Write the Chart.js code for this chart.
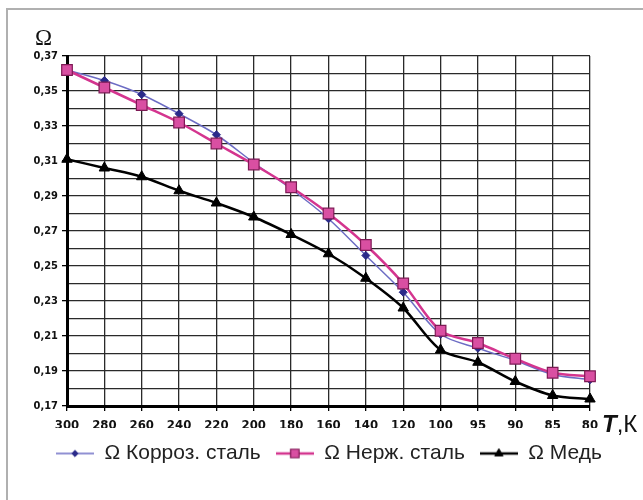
<!DOCTYPE html>
<html>
<head>
<meta charset="utf-8">
<script src="https://cdn.jsdelivr.net/npm/chart.js@4/dist/chart.umd.min.js"></script>
<style>
  html, body { margin: 0; padding: 0; background: #fff; }
  #wrap { width: 643px; height: 500px; position: relative; }
</style>
</head>
<body>
<div id="wrap"><canvas id="c" width="643" height="500"></canvas></div>
<script>
// Temperature, K (category axis, read right to left as cooling)
const temperatures = ['300', '280', '260', '240', '220', '200', '180', '160', '140', '120', '100', '95', '90', '85', '80'];

// Resistance, Ohm
const corrosionSteel = [0.362, 0.356, 0.348, 0.337, 0.325, 0.309, 0.294, 0.277, 0.256, 0.235, 0.211, 0.203, 0.196, 0.188, 0.185];
const stainlessSteel = [0.362, 0.352, 0.342, 0.332, 0.320, 0.308, 0.295, 0.280, 0.262, 0.240, 0.213, 0.206, 0.197, 0.189, 0.187];
const copper         = [0.311, 0.306, 0.301, 0.293, 0.286, 0.278, 0.268, 0.257, 0.243, 0.226, 0.202, 0.195, 0.184, 0.176, 0.174];

const seriesNames = ['Ω Корроз. сталь', 'Ω Нерж. сталь', 'Ω Медь'];

const yMin = 0.17, yMax = 0.37, yStep = 0.01;

const narrow = "'Liberation Sans Narrow', 'DejaVu Sans Condensed', 'Arial Narrow', sans-serif";

const styles = [
  { line: '#6c6cc4', lw: 1.5, fill: '#2a2a8a', border: '#2a2a8a', bw: 1, shape: 'rectRot', r: 4 },
  { line: '#d4358f', lw: 2.5, fill: '#d94fa2', border: '#7e1a55', bw: 1.2, shape: 'rect', r: 7.5 },
  { line: '#000000', lw: 2.5, fill: '#000000', border: '#000000', bw: 1, shape: 'triangle', r: 6 }
];

// Legend swatch: a short line with the series marker in the middle
function swatch(s) {
  const cv = document.createElement('canvas');
  cv.width = 38; cv.height = 16;
  const ctx = cv.getContext('2d');
  ctx.strokeStyle = s.line;
  ctx.lineWidth = s.lw;
  ctx.beginPath(); ctx.moveTo(0, 8); ctx.lineTo(38, 8); ctx.stroke();
  ctx.fillStyle = s.fill;
  ctx.strokeStyle = s.border;
  ctx.lineWidth = s.bw;
  Chart.helpers.drawPoint(ctx, { pointStyle: s.shape, radius: s.r * 0.8, borderWidth: s.bw, rotation: 0 }, 19, 8);
  return cv;
}

const dataSeries = [corrosionSteel, stainlessSteel, copper];
const drawOrder = [1, 0, 2];

const datasets = dataSeries.map((d, i) => ({
  label: seriesNames[i],
  data: d,
  yAxisID: 'y',
  order: drawOrder[i],
  borderColor: styles[i].line,
  borderWidth: styles[i].lw,
  backgroundColor: styles[i].fill,
  pointBackgroundColor: styles[i].fill,
  pointBorderColor: styles[i].border,
  pointBorderWidth: styles[i].bw,
  pointStyle: styles[i].shape,
  pointRadius: styles[i].r,
  pointHoverRadius: styles[i].r,
  tension: 0.3,
  fill: false
}));

// White page with a light grey frame on the top and left
const framePlugin = {
  id: 'frame',
  beforeDraw(chart) {
    const ctx = chart.ctx;
    ctx.save();
    ctx.fillStyle = '#fff';
    ctx.fillRect(0, 0, chart.width, chart.height);
    ctx.strokeStyle = '#b0b0b0';
    ctx.lineWidth = 2;
    ctx.beginPath();
    ctx.moveTo(7, chart.height);
    ctx.lineTo(7, 9);
    ctx.lineTo(chart.width, 9);
    ctx.stroke();
    ctx.restore();
  }
};

// Axis captions: Ω above the value axis, T,K after the temperature axis
const captionPlugin = {
  id: 'captions',
  afterDraw(chart) {
    const ctx = chart.ctx;
    const a = chart.chartArea;
    ctx.save();
    ctx.fillStyle = '#111';
    ctx.textBaseline = 'alphabetic';
    ctx.textAlign = 'left';
    ctx.font = "23px 'Liberation Serif', serif";
    ctx.fillText('Ω', a.left - 32, a.top - 11);
    const x0 = a.right + 12, y0 = a.bottom + 26;
    ctx.font = "italic bold 24px 'Liberation Sans', Arial, sans-serif";
    ctx.fillText('T', x0, y0);
    const w = ctx.measureText('T').width;
    ctx.font = "24px 'Liberation Sans', Arial, sans-serif";
    ctx.fillText(',К', x0 + w, y0);
    ctx.restore();
  }
};

new Chart(document.getElementById('c'), {
  type: 'line',
  data: { labels: temperatures, datasets },
  plugins: [framePlugin, captionPlugin],
  options: {
    responsive: false,
    animation: false,
    events: [],
    layout: { padding: { top: 56, right: 0, left: 15, bottom: 26 } },
    plugins: {
      tooltip: { enabled: false },
      title: { display: false },
      legend: {
        position: 'bottom',
        labels: {
          usePointStyle: true,
          pointStyleWidth: 38,
          boxHeight: 16,
          padding: 15,
          color: '#222',
          font: { family: "'Liberation Sans', Arial, sans-serif", size: 21 },
          sort: (a, b) => a.datasetIndex - b.datasetIndex,
          generateLabels(chart) {
            return chart.data.datasets.map((ds, i) => ({
              text: ds.label,
              datasetIndex: i,
              pointStyle: swatch(styles[i]),
              fillStyle: 'transparent',
              strokeStyle: 'transparent',
              lineWidth: 0,
              hidden: false,
              fontColor: '#222'
            }));
          }
        }
      }
    },
    scales: {
      x: {
        type: 'category',
        offset: false,
        afterFit(scale) { scale.height = 22; },
        grid: { color: '#2a2a2a', lineWidth: 1.3, tickLength: 5, tickColor: '#000', drawTicks: true },
        border: { color: '#000', width: 3 },
        ticks: {
          autoSkip: false,
          maxRotation: 0,
          padding: 7,
          color: '#111',
          font: { family: narrow, size: 13, weight: 'bold' }
        }
      },
      y: {
        min: yMin,
        max: yMax,
        afterFit(scale) { scale.width = 52; },
        grid: {
          color: '#2a2a2a',
          lineWidth: 1.3,
          tickLength: 5,
          tickColor: (c) => (c.tick && c.tick.label ? '#000' : 'rgba(0,0,0,0)')
        },
        border: { color: '#000', width: 3 },
        ticks: {
          stepSize: yStep,
          autoSkip: false,
          padding: 4,
          color: '#111',
          font: { family: narrow, size: 11, weight: 'bold' },
          callback(v) {
            const n = Math.round(v * 100);
            return n % 2 === 1 ? (n / 100).toFixed(2).replace('.', ',') : '';
          }
        }
      },
      // empty margin on the right that holds the T,K caption
      yRight: {
        type: 'linear',
        axis: 'y',
        position: 'right',
        min: yMin,
        max: yMax,
        afterFit(scale) { scale.width = 53; },
        grid: { display: false, drawTicks: false },
        border: { display: false },
        ticks: { display: false }
      }
    }
  }
});
</script>
</body>
</html>
